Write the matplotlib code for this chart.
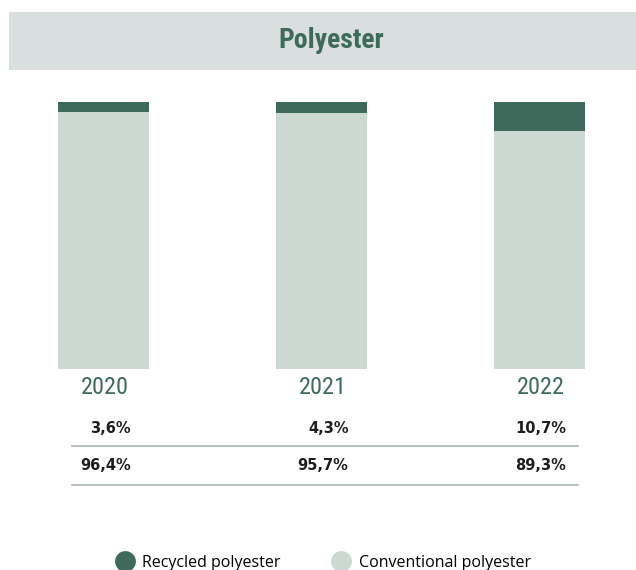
import matplotlib
matplotlib.use("Agg")
import matplotlib.pyplot as plt
from matplotlib import font_manager
from matplotlib.patches import Rectangle
from matplotlib.lines import Line2D

# data
years = ["2020", "2021", "2022"]
recycled = [3.6, 4.3, 10.7]
conventional = [96.4, 95.7, 89.3]
series_names = ["Recycled polyester", "Conventional polyester"]
title = "Polyester"

dark = "#3e6a5b"
light = "#ccd8d2"
band = "#d9dfde"
rule = "#a7b6b0"

# pick a narrow face for title if there is one
names = {f.name for f in font_manager.fontManager.ttflist}
narrow = "DejaVu Sans"
for cand in ["Liberation Sans Narrow", "DejaVu Sans Condensed", "Roboto Condensed"]:
    if cand in names:
        narrow = cand
        break


def fmt(v):
    return f"{v:.1f}%".replace(".", ",")


fig = plt.figure(figsize=(6.36, 5.7), dpi=100)

# title band
fig.patches.append(Rectangle((9 / 636, 1 - 70 / 570), 1, 58 / 570,
                             transform=fig.transFigure, facecolor=band,
                             edgecolor="none", zorder=0))
fig.text(331 / 636, 1 - 40 / 570, title, ha="center", va="center",
         fontsize=20, fontweight="bold", color=dark, family=narrow,
         fontstretch="condensed")

# bars
ax = fig.add_axes([0, 1 - 369 / 570, 1, 267 / 570])
x = list(range(len(years)))
ax.bar(x, conventional, width=91 / 218, color=light)
ax.bar(x, recycled, width=91 / 218, bottom=conventional, color=dark)
ax.set_xlim(-103.5 / 218, (636 - 103.5) / 218)
ax.set_ylim(0, 100)
ax.axis("off")

# year labels and values under the bars
off = 27 / 218
for i, yr in enumerate(years):
    ax.text(i + 0.005, -7.0, yr, ha="center", va="center", fontsize=17.5,
            fontweight="normal", color=dark, family=narrow)
    ax.text(i + off, -22.2, fmt(recycled[i]), ha="right", va="center",
            fontsize=10.5, fontweight="bold", color="#1e1e1e")
    ax.text(i + off, -36.0, fmt(conventional[i]), ha="right", va="center",
            fontsize=10.5, fontweight="bold", color="#1e1e1e")

for yp in [446, 485]:
    fig.add_artist(Line2D([72 / 636, 578 / 636], [1 - yp / 570] * 2,
                          transform=fig.transFigure, color=rule, lw=1.2))

# legend
handles = [Line2D([], [], marker="o", ls="none", ms=15, color=dark,
                  markeredgecolor="none"),
           Line2D([], [], marker="o", ls="none", ms=15, color=light,
                  markeredgecolor="none")]
leg = fig.legend(handles, series_names, loc="center",
                 bbox_to_anchor=(323 / 636, 1 - 563 / 570), ncol=2,
                 frameon=False, prop={"family": "Open Sans", "size": 11.5},
                 handletextpad=0.5, columnspacing=3.2, handlelength=1.2)

fig.savefig("out.png", dpi=100)
